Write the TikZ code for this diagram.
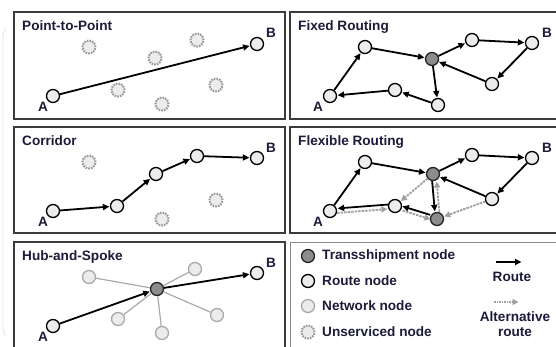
\documentclass[tikz,border=0pt]{standalone}
\usepackage{fontspec}
\setmainfont{Liberation Sans}
\usetikzlibrary{arrows.meta}
\definecolor{ink}{RGB}{28,28,58}
\definecolor{nodefill}{RGB}{236,236,236}
\definecolor{tfill}{RGB}{140,140,140}
\definecolor{ugray}{RGB}{150,150,150}
\definecolor{ngray}{RGB}{170,170,170}
\definecolor{altgray}{RGB}{160,160,160}
\definecolor{framegray}{RGB}{60,60,60}
\begin{document}
\begin{tikzpicture}[x=1pt,y=-1pt,
  rnode/.style={circle, draw=black, fill=nodefill, line width=1.3pt, minimum size=13pt, inner sep=0pt},
  tnode/.style={rnode, fill=tfill, draw=black!85},
  nnode/.style={rnode, draw=ngray},
  unode/.style={rnode, draw=ugray, line width=2pt, dash pattern=on 1.6pt off 1.1pt},
  route/.style={-{Triangle[length=6.5pt,width=6pt]}, line width=1.8pt, shorten >=0.5pt},
  alt/.style={-{Triangle[length=6pt,width=6pt]}, draw=altgray, color=altgray, line width=1.8pt, dash pattern=on 2.5pt off 1pt, shorten >=0.5pt},
  spoke/.style={draw=ngray, line width=1.2pt},
  txt/.style={text=ink, font=\bfseries\fontsize{13.6}{16}\selectfont, inner sep=0pt},
  title/.style={txt, anchor=base west},
  panel/.style={draw=framegray, line width=1.3pt}]
\clip (0,0) rectangle (556,347);
\fill[white] (0,0) rectangle (556,347);
\draw[black!10, line width=0.8pt, rounded corners=4pt] (6,28) -- (3,32) -- (3,332) -- (6,336);

% panels
\draw[panel] (14,12) rectangle (285,119);
\draw[panel] (14,127) rectangle (285,233);
\draw[panel] (14,242) rectangle (285,360);
\draw[panel] (290,12) rectangle (570,119);
\draw[panel] (290,127) rectangle (570,233);
\draw[draw=black!45, line width=1pt] (290,360) -- (290,242) -- (570,242);

% ---------- Point-to-Point
\node[title] (t1) at (22,30.5) {Point-to-Point};
\node[unode] (u11) at (89,47) {};
\node[unode] (u12) at (155,58) {};
\node[unode] (u13) at (197,40) {};
\node[unode] (u14) at (118,90) {};
\node[unode] (u15) at (216,85) {};
\node[unode] (u16) at (162,104) {};
\node[rnode] (a1) at (53,96) {};
\node[rnode] (b1) at (257,44) {};
\draw[route] (a1) -- (b1);
\node[txt] (la1) at (43,107) {A};
\node[txt] (lb1) at (271,33) {B};

% ---------- Fixed Routing
\node[title] (t2) at (298,30.5) {Fixed Routing};
\node[rnode] (a2) at (330,96) {};
\node[rnode] (f1) at (365,47) {};
\node[tnode] (ft) at (432,59) {};
\node[rnode] (f3) at (472,40) {};
\node[rnode] (b2) at (532,43) {};
\node[rnode] (f5) at (492,84) {};
\node[rnode] (f6) at (438,105) {};
\node[rnode] (f7) at (395,90) {};
\draw[route] (a2) -- (f1);
\draw[route] (f1) -- (ft);
\draw[route] (ft) -- (f3);
\draw[route] (f3) -- (b2);
\draw[route] (b2) -- (f5);
\draw[route] (f5) -- (ft);
\draw[route] (ft) -- (f6);
\draw[route] (f6) -- (f7);
\draw[route] (f7) -- (a2);
\node[txt] (la2) at (318,107) {A};
\node[txt] (lb2) at (547,33) {B};

% ---------- Corridor
\node[title] (t3) at (22,145.5) {Corridor};
\node[unode] (u31) at (89,162) {};
\node[unode] (u32) at (216,200) {};
\node[unode] (u33) at (162,219) {};
\node[rnode] (a3) at (53,211) {};
\node[rnode] (c2) at (117,206) {};
\node[rnode] (c3) at (156,174) {};
\node[rnode] (c4) at (197,156) {};
\node[rnode] (b3) at (257,158) {};
\draw[route] (a3) -- (c2);
\draw[route] (c2) -- (c3);
\draw[route] (c3) -- (c4);
\draw[route] (c4) -- (b3);
\node[txt] (la3) at (43,222) {A};
\node[txt] (lb3) at (271,148) {B};

% ---------- Flexible Routing
\node[title] (t4) at (298,145.5) {Flexible Routing};
\node[rnode] (a4) at (330,211) {};
\node[rnode] (x1) at (365,162) {};
\node[tnode] (xt) at (433,174) {};
\node[rnode] (x3) at (472,155) {};
\node[rnode] (b4) at (532,158) {};
\node[rnode] (x5) at (492,199) {};
\node[tnode] (xt2) at (437,219) {};
\node[rnode] (x7) at (395,206) {};
\draw[alt] (xt) -- (x7);
\draw[alt] (x5) -- (xt2);
\draw[alt, transform canvas={yshift=-2.5pt}] (a4) -- (x7);
\draw[alt, transform canvas={xshift=3pt}] (xt2) -- (xt);
\draw[alt, transform canvas={yshift=-2.5pt,xshift=0.8pt}] (x7) -- (xt2);
\draw[route] (a4) -- (x1);
\draw[route] (x1) -- (xt);
\draw[route] (xt) -- (x3);
\draw[route] (x3) -- (b4);
\draw[route] (b4) -- (x5);
\draw[route] (x5) -- (xt);
\draw[route, transform canvas={xshift=-1.5pt}] (xt) -- (xt2);
\draw[route, transform canvas={yshift=2pt}] (xt2) -- (x7);
\draw[route, transform canvas={yshift=2pt}] (x7) -- (a4);
\node[txt] (la4) at (318,222) {A};
\node[txt] (lb4) at (547,148) {B};

% ---------- Hub-and-Spoke
\node[title] (t5) at (22,260.5) {Hub-and-Spoke};
\node[tnode] (hub) at (157,289) {};
\node[nnode] (s1) at (89,277) {};
\node[nnode] (s2) at (195,269) {};
\node[nnode] (s3) at (217,315) {};
\node[nnode] (s4) at (162,333) {};
\node[nnode] (s5) at (118,319) {};
\foreach \s in {s1,s2,s3,s4,s5} \draw[spoke] (hub) -- (\s);
\node[rnode] (a5) at (53,326) {};
\node[rnode] (b5) at (257,273) {};
\draw[route] (a5) -- (hub);
\draw[route] (hub) -- (b5);
\node[txt] (la5) at (43,337) {A};
\node[txt] (lb5) at (271,263) {B};

% ---------- Legend
\node[tnode] (lg1) at (308,256) {};
\node[rnode] (lg2) at (308,281) {};
\node[nnode] (lg3) at (308,306) {};
\node[unode] (lg4) at (308,332) {};
\node[txt, anchor=west] (lt1) at (322,256) {Transshipment node};
\node[txt, anchor=west] (lt2) at (322,281) {Route node};
\node[txt, anchor=west] (lt3) at (322,306) {Network node};
\node[txt, anchor=west] (lt4) at (322,332) {Unserviced node};
\coordinate (r1) at (496,262);
\coordinate (r2) at (522,262);
\draw[route] (r1) -- (r2);
\node[txt] (lr) at (512,277) {Route};
\coordinate (d1) at (494,302);
\coordinate (d2) at (519,302);
\draw[alt, line width=1.4pt, dash pattern=on 1.5pt off 1pt] (d1) -- (d2);
\node[txt] (ld1) at (515,317) {Alternative};
\node[txt] (ld2) at (515,332) {route};
\end{tikzpicture}
\end{document}
